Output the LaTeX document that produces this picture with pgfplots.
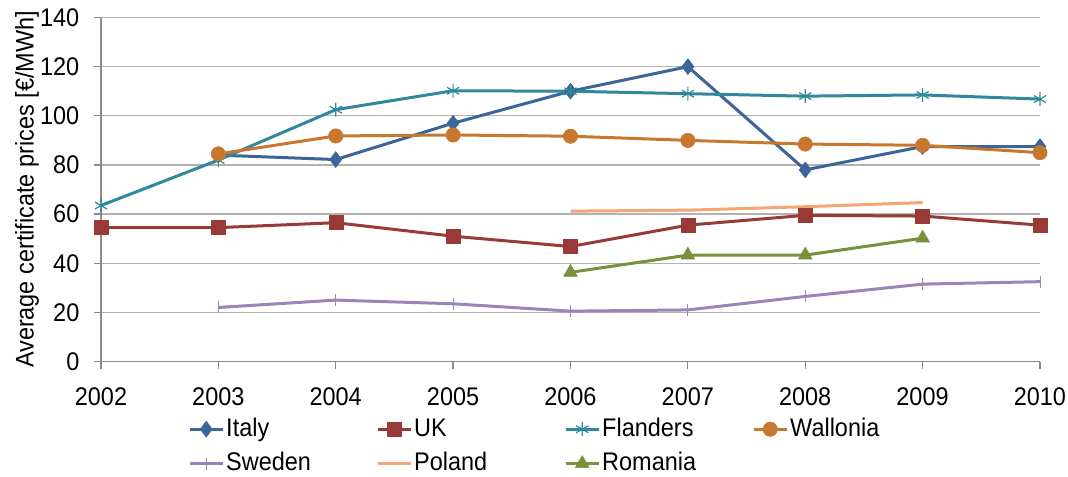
\documentclass[border=0pt]{standalone}
\usepackage{fontspec}
\setmainfont[FakeStretch=0.92]{Liberation Sans}
\usepackage{pgfplots}
\pgfplotsset{compat=1.18}
\definecolor{cItaly}{HTML}{3C6598}
\definecolor{cUK}{HTML}{983A37}
\definecolor{cFlan}{HTML}{31879B}
\definecolor{cWall}{HTML}{C8772F}
\definecolor{cSwe}{HTML}{9A84B8}
\definecolor{cPol}{HTML}{F7A673}
\definecolor{cRom}{HTML}{76923C}
\begin{document}
\fontsize{25.5}{30}\selectfont
\begin{tikzpicture}
\begin{axis}[
    name=ax,
    scale only axis,
    width=939pt, height=344pt,
    xmin=2002, xmax=2010,
    ymin=0, ymax=140,
    xtick={2002,...,2010},
    ytick={0,20,...,140},
    xticklabel style={/pgf/number format/1000 sep={}, inner sep=0pt, yshift=-19pt},
    yticklabel style={xshift=-6pt},
    /pgf/number format/assume math mode=true,
    ticklabel style={font=\fontsize{25.5}{30}\selectfont},
    axis x line*=bottom, axis y line*=left,
    axis line style={gray!90, line width=1.2pt, -},
    tick style={gray!90, line width=1.2pt},
    major tick length=7pt,
    tick align=outside,
    ymajorgrids=true,
    grid style={gray!60, line width=1.2pt},
    ylabel={Average certificate prices [€/MWh]},
    every axis y label/.style={at={(rel axis cs:0,0.5)}, xshift=-74pt, rotate=90, anchor=center,
        inner sep=0pt, font=\fontsize{25.5}{30}\selectfont},
    legend columns=4,
    legend style={at={(rel axis cs:0.0927,-0.158)}, anchor=north west, draw=none, fill=none,
        font=\fontsize{25.5}{30}\selectfont, row sep=8pt, inner sep=0pt},
    legend cell align=left,
    legend image code/.code={\draw[mark repeat=2, mark phase=2] plot coordinates {(0pt,0pt) (16.5pt,0pt) (33pt,0pt)};},
    every axis plot/.append style={line width=3pt, line join=round},
]
\addplot[color=cItaly, mark=diamond*, mark size=8pt, mark options={solid, line width=0.5pt}] coordinates {
    (2003,84)(2004,82.2)(2005,97)(2006,110)(2007,120)(2008,78)(2009,87.5)(2010,87.5)};
\addlegendentry{\makebox[148pt][l]{Italy}}
\addplot[color=cUK, mark=square*, mark size=7pt, mark options={solid, line width=0.5pt}] coordinates {
    (2002,54.5)(2003,54.5)(2004,56.5)(2005,51)(2006,46.8)(2007,55.5)(2008,59.5)(2009,59.2)(2010,55.5)};
\addlegendentry{\makebox[148pt][l]{UK}}
\addplot[color=cFlan, mark=asterisk, mark size=7pt, mark options={solid, line width=1.2pt}] coordinates {
    (2002,63.5)(2003,82)(2004,102.5)(2005,110.2)(2006,110)(2007,109)(2008,108)(2009,108.5)(2010,106.8)};
\addlegendentry{\makebox[148pt][l]{Flanders}}
\addplot[color=cWall, mark=*, mark size=7.2pt, mark options={solid, line width=0.5pt}] coordinates {
    (2003,84.5)(2004,91.8)(2005,92.2)(2006,91.7)(2007,90)(2008,88.5)(2009,88)(2010,85)};
\addlegendentry{Wallonia}
\addplot[color=cSwe, mark=|, mark size=6pt, mark options={solid, line width=1pt}] coordinates {
    (2003,22)(2004,25)(2005,23.5)(2006,20.5)(2007,21)(2008,26.5)(2009,31.5)(2010,32.5)};
\addlegendentry{\makebox[148pt][l]{Sweden}}
\addplot[color=cPol, no markers] coordinates {
    (2006,61.2)(2007,61.6)(2008,63)(2009,64.7)};
\addlegendentry{\makebox[148pt][l]{Poland}}
\addplot[color=cRom, mark=triangle*, mark size=8pt, mark options={solid, line width=0.5pt}] coordinates {
    (2006,36.3)(2007,43.3)(2008,43.3)(2009,50.2)};
\addlegendentry{Romania}
\end{axis}
\path ([xshift=-101pt,yshift=17pt]ax.north west) rectangle ([xshift=28pt,yshift=-110pt]ax.south east);
\end{tikzpicture}
\end{document}
